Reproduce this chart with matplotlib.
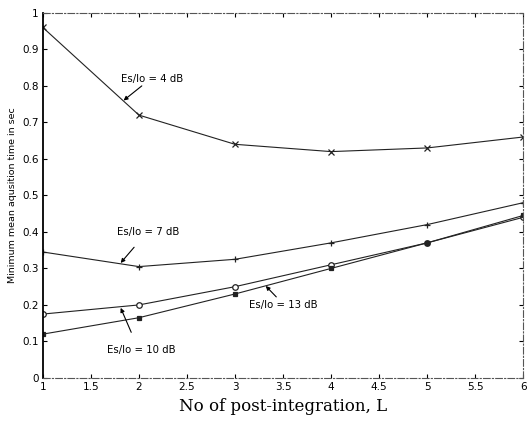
import matplotlib
matplotlib.use("Agg")
import matplotlib.pyplot as plt
import numpy as np

L = [1, 2, 3, 4, 5, 6]
t_4dB = [0.96, 0.72, 0.64, 0.62, 0.63, 0.66]
t_7dB = [0.345, 0.305, 0.325, 0.37, 0.42, 0.48]
t_10dB = [0.175, 0.20, 0.25, 0.31, 0.37, 0.44]
t_13dB = [0.12, 0.165, 0.23, 0.30, 0.37, 0.445]

xticks = [1, 1.5, 2, 2.5, 3, 3.5, 4, 4.5, 5, 5.5, 6]
xticklabels = ["1", "1.5", "2", "2.5", "3", "3.5", "4", "4.5", "5", "5.5", "6"]
yticks = [0, 0.1, 0.2, 0.3, 0.4, 0.5, 0.6, 0.7, 0.8, 0.9, 1]
yticklabels = ["0", "0.1", "0.2", "0.3", "0.4", "0.5", "0.6", "0.7", "0.8", "0.9", "1"]

fig = plt.figure(figsize=(5.29, 4.29), dpi=100)
ax = fig.add_axes([0.081, 0.119, 0.908, 0.851])

lc = "#222222"
ax.plot(L, t_4dB, color=lc, lw=0.8, marker="x", ms=4, mew=0.9)
ax.plot(L, t_7dB, color=lc, lw=0.8, marker="+", ms=5, mew=0.9)
ax.plot(L, t_10dB, color=lc, lw=0.8, marker="o", ms=4, mfc="white", mew=0.9)
ax.plot(L, t_13dB, color=lc, lw=0.8, marker="s", ms=3.5, mew=0.9)

ax.set_xlim(1, 6)
ax.set_ylim(0, 1)
ax.set_xticks(xticks)
ax.set_xticklabels(xticklabels)
ax.set_yticks(yticks)
ax.set_yticklabels(yticklabels)
ax.tick_params(direction="in", top=True, right=True, length=3, width=0.8,
               labelsize=7.5, pad=3)
for lab in ax.get_xticklabels() + ax.get_yticklabels():
    lab.set_family("DejaVu Sans")

for s in ["top", "right", "bottom"]:
    ax.spines[s].set_linewidth(0.8)
    ax.spines[s].set_color("#555555")
    ax.spines[s].set_linestyle((0, (6, 2, 1, 2)))
ax.spines["left"].set_linewidth(1.3)
ax.spines["left"].set_color("black")

ax.set_xlabel("No of post-integration, L", family="DejaVu Serif", fontsize=12, labelpad=4)
ax.set_ylabel("Minimum mean aqusition time in sec", family="DejaVu Sans", fontsize=6.8, labelpad=4)

ap = dict(arrowstyle="-|>", color="black", lw=0.8, mutation_scale=6, shrinkA=0, shrinkB=0)
fs = 7.3
ax.text(2.14, 0.818, "Es/Io = 4 dB", fontsize=fs, ha="center", va="center")
ax.annotate("", xy=(1.84, 0.76), xytext=(2.03, 0.80), arrowprops=ap)
ax.text(2.10, 0.40, "Es/Io = 7 dB", fontsize=fs, ha="center", va="center")
ax.annotate("", xy=(1.81, 0.315), xytext=(1.95, 0.358), arrowprops=ap)
ax.text(2.02, 0.077, "Es/Io = 10 dB", fontsize=fs, ha="center", va="center")
ax.annotate("", xy=(1.81, 0.192), xytext=(1.92, 0.125), arrowprops=ap)
ax.text(3.50, 0.20, "Es/Io = 13 dB", fontsize=fs, ha="center", va="center")
ax.annotate("", xy=(3.32, 0.252), xytext=(3.43, 0.222), arrowprops=ap)

fig.savefig("out.png", dpi=100)
